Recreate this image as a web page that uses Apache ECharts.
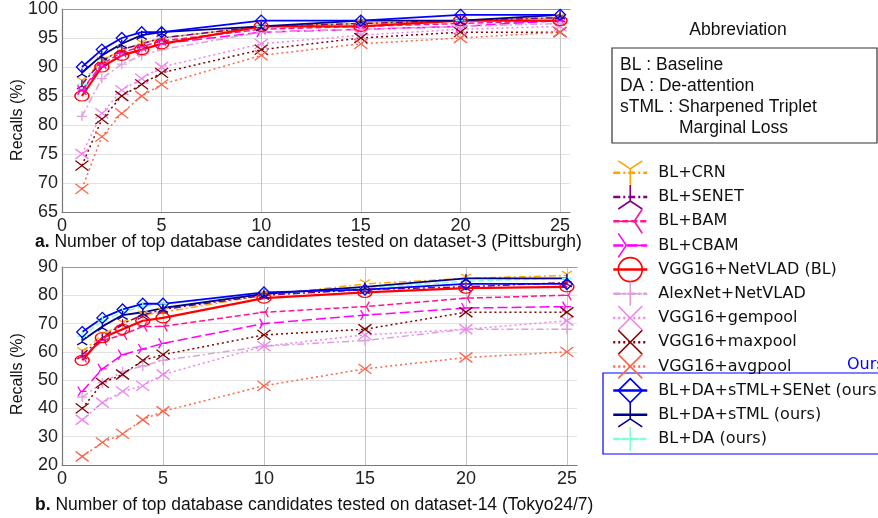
<!DOCTYPE html>
<html><head><meta charset="utf-8">
<script src="https://cdn.jsdelivr.net/npm/echarts@6/dist/echarts.min.js"></script>
<style>html,body{margin:0;padding:0;background:#fff}#c{width:878px;height:518px}</style>
</head><body><div id="c"></div>
<script>
// ---- data ----
const xs = [1, 2, 3, 4, 5, 10, 15, 20, 25];
const xTicks = [0, 5, 10, 15, 20, 25];
const seriesNames = ['BL+CRN', 'BL+SENET', 'BL+BAM', 'BL+CBAM', 'VGG16+NetVLAD (BL)', 'AlexNet+NetVLAD',
  'VGG16+gempool', 'VGG16+maxpool', 'VGG16+avgpool', 'BL+DA+sTML+SENet (ours)', 'BL+DA+sTML (ours)', 'BL+DA (ours)'];

// dataset-3 (Pittsburgh)
const crnA     = [87.5, 91, 93, 94, 95, 97, 97.5, 98, 98.5];
const senetA   = [87, 91, 93, 94, 95, 97, 97.5, 98, 98.5];
const bamA     = [86, 90.5, 92.5, 93.5, 94.5, 96.5, 97, 97.5, 98];
const cbamA    = [86, 90, 92, 93, 94, 96, 96.5, 97, 98];
const netvladA = [85, 90, 92, 93, 94, 97, 97, 98, 98];
const alexA    = [81.5, 88, 90.5, 92, 93, 96, 96.5, 97, 97.5];
const gemA     = [75, 82, 86, 88, 90, 94, 95.5, 96.5, 97];
const maxA     = [73, 81, 85, 87, 89, 93, 95, 96, 96];
const avgA     = [69, 78, 82, 85, 87, 92, 94, 95, 96];
const oursSeA  = [90, 93, 95, 96, 96, 98, 98, 99, 99];
const oursStA  = [89, 92, 94, 95.5, 96, 97, 98, 98, 99];
const oursDaA  = [87, 91, 93, 94, 95, 97, 97.5, 98, 98.5];

// dataset-14 (Tokyo24/7)
const crnB     = [60, 66, 70, 73, 74, 80, 84, 86, 87];
const senetB   = [59, 65, 70, 73, 75, 80, 82, 83, 84.5];
const bamB     = [58, 64, 66, 69, 69, 74, 76, 79, 80];
const cbamB    = [46, 54, 59, 61, 63, 70, 73, 75.5, 76];
const netvladB = [57, 65, 68, 71, 72, 79, 81, 82.5, 83];
const alexB    = [44, 49, 53, 55, 57, 62, 64, 68, 68];
const gemB     = [36, 42, 46, 48, 52, 62, 66, 68, 71];
const maxB     = [40, 49, 52, 57, 59, 66, 68, 74, 74];
const avgB     = [23, 28, 31, 36, 39, 48, 54, 58, 60];
const oursSeB  = [67, 72, 75, 77, 77, 81, 82, 84, 84];
const oursStB  = [64, 69, 73, 74, 75.5, 80.5, 83, 86, 86];
const oursDaB  = [65.5, 71, 74, 76, 77, 80.5, 82.5, 85, 86];

const topVals = [crnA, senetA, bamA, cbamA, netvladA, alexA, gemA, maxA, avgA, oursSeA, oursStA, oursDaA];
const botVals = [crnB, senetB, bamB, cbamB, netvladB, alexB, gemB, maxB, avgB, oursSeB, oursStB, oursDaB];

// ---- styles ----
const SYM = {
  triDown: 'path://M5,5L5,10M5,5L0.67,2.5M5,5L9.33,2.5',
  triUp: 'path://M5,5L5,0M5,5L0.67,7.5M5,5L9.33,7.5',
  triLeft: 'path://M5,5L0,5M5,5L7.5,0.67M5,5L7.5,9.33',
  triRight: 'path://M5,5L10,5M5,5L2.5,0.67M5,5L2.5,9.33',
  plus: 'path://M5,0L5,10M0,5L10,5',
  cross: 'path://M0,0L10,10M10,0L0,10'
};
const styles = [
  {c: '#FFA500', dash: [7, 3, 2, 3], w: 1.5, sym: SYM.triDown, size: [10, 10], keep: true},
  {c: '#800080', dash: [7, 3, 2, 3], w: 1.5, sym: SYM.triUp, size: [10, 10], keep: true},
  {c: '#FF1493', dash: [6, 3], w: 1.5, sym: SYM.triLeft, size: [10, 10], keep: true},
  {c: '#FF00FF', dash: [10, 4], w: 1.5, sym: SYM.triRight, size: [10, 10], keep: true},
  {c: '#FF0000', dash: 'solid', w: 2.2, sym: 'circle', size: [14, 10], keep: false},
  {c: '#DDA0DD', dash: [7, 3, 2, 3], w: 1.5, sym: SYM.plus, size: [10, 10], keep: false},
  {c: '#EE82EE', dash: [2, 3], w: 1.5, sym: SYM.cross, size: [13, 10], keep: false},
  {c: '#800000', dash: [2, 3], w: 1.5, sym: SYM.cross, size: [13, 10], keep: false},
  {c: '#FF6347', dash: [2, 3], w: 1.5, sym: SYM.cross, size: [13, 10], keep: false},
  {c: '#0000FF', dash: 'solid', w: 1.8, sym: 'diamond', size: [11, 11], keep: false},
  {c: '#00008B', dash: 'solid', w: 1.8, sym: SYM.triUp, size: [10, 10], keep: true},
  {c: '#7FFFD4', dash: [6, 3], w: 1.5, sym: SYM.plus, size: [10, 10], keep: false}
];
const drawOrder = [11, 0, 1, 2, 3, 5, 6, 7, 8, 4, 10, 9];

function mk(i, vals, g) {
  const s = styles[i];
  return {
    type: 'line', name: seriesNames[i],
    xAxisIndex: g === 0 ? 0 : 2, yAxisIndex: g,
    data: xs.map((x, j) => [x, vals[j]]),
    symbol: s.sym, symbolSize: s.size, symbolKeepAspect: s.keep, showAllSymbol: true,
    lineStyle: {color: s.c, width: s.w, type: s.dash},
    itemStyle: {color: 'transparent', borderColor: s.c, borderWidth: 1.3},
    emphasis: {disabled: true}, animation: false
  };
}
const series = [];
drawOrder.forEach(i => { series.push(mk(i, topVals[i], 0)); series.push(mk(i, botVals[i], 1)); });

const FONT = 'Liberation Sans, Arial, sans-serif';
function xMain(grid) {
  return {
    gridIndex: grid, type: 'value', min: 0, max: 25.5, interval: 5,
    axisLine: {show: true, lineStyle: {color: '#777', width: 1.2}},
    axisTick: {show: false},
    axisLabel: {fontSize: 18, color: '#222', fontFamily: FONT, margin: 5,
      formatter: v => (xTicks.indexOf(v) >= 0 ? String(v) : '')},
    splitLine: {show: true, showMaxLine: false, lineStyle: {color: '#c4c4c4', width: 1}}
  };
}
function xTop(grid) {
  return {
    gridIndex: grid, type: 'value', min: 0, max: 25.5, position: 'top',
    axisLine: {show: true, lineStyle: {color: '#999', width: 1.2}},
    axisTick: {show: false}, axisLabel: {show: false}, splitLine: {show: false}
  };
}
function yAx(grid, min, max, interval) {
  return {
    gridIndex: grid, type: 'value', min: min, max: max, interval: interval,
    axisLine: {show: true, lineStyle: {color: '#777', width: 1.2}},
    axisTick: {show: false},
    axisLabel: {fontSize: 18, color: '#222', fontFamily: FONT, margin: 4},
    splitLine: {show: true, showMaxLine: false, lineStyle: {color: '#e2e2e2', width: 1}}
  };
}

const chart = echarts.init(document.getElementById('c'), null, {renderer: 'canvas'});
chart.setOption({
  animation: false,
  backgroundColor: '#fff',
  grid: [
    {left: 62, top: 8.5, width: 508, height: 203.5},
    {left: 62, top: 267, width: 515, height: 198}
  ],
  xAxis: [xMain(0), xTop(0), xMain(1), xTop(1)],
  yAxis: [yAx(0, 65, 100, 5), yAx(1, 20, 90, 10)],
  title: [
    {text: '{b|a.} Number of top database candidates tested on dataset-3 (Pittsburgh)', left: 35, top: 233, padding: 0,
      textStyle: {fontSize: 17.5, fontWeight: 'normal', color: '#111', fontFamily: FONT,
        rich: {b: {fontSize: 17.5, fontWeight: 'bold', color: '#111', fontFamily: FONT}}}},
    {text: '{b|b.} Number of top database candidates tested on dataset-14 (Tokyo24/7)', left: 35, top: 496, padding: 0,
      textStyle: {fontSize: 17.5, fontWeight: 'normal', color: '#111', fontFamily: FONT,
        rich: {b: {fontSize: 17.5, fontWeight: 'bold', color: '#111', fontFamily: FONT}}}}
  ],
  legend: {
    orient: 'vertical', left: 612, top: 160, padding: 0,
    itemWidth: 34, itemHeight: 30, itemGap: -1.4,
    data: seriesNames,
    selectedMode: false,
    textStyle: {fontSize: 16, color: '#111', fontFamily: 'DejaVu Sans', padding: [0, 0, 0, 6]},
    lineStyle: {width: 2.5},
    itemStyle: {borderWidth: 1.6}
  },
  graphic: {elements: [
    {type: 'text', x: 18, y: 120, rotation: Math.PI / 2,
      style: {text: 'Recalls (%)', fill: '#111', font: '16px ' + FONT, align: 'center', verticalAlign: 'middle', textAlign: 'center', textVerticalAlign: 'middle'}},
    {type: 'text', x: 18, y: 374, rotation: Math.PI / 2,
      style: {text: 'Recalls (%)', fill: '#111', font: '16px ' + FONT, align: 'center', verticalAlign: 'middle', textAlign: 'center', textVerticalAlign: 'middle'}},
    {type: 'text', x: 738, y: 30,
      style: {text: 'Abbreviation', fill: '#111', font: '17.5px ' + FONT, align: 'center', verticalAlign: 'middle', textAlign: 'center', textVerticalAlign: 'middle'}},
    {type: 'rect', shape: {x: 612, y: 48, width: 265, height: 95}, style: {fill: 'none', stroke: '#333', lineWidth: 1.2}},
    {type: 'text', x: 620, y: 65, style: {text: 'BL : Baseline', fill: '#111', font: '17.5px ' + FONT, verticalAlign: 'middle', textVerticalAlign: 'middle'}},
    {type: 'text', x: 620, y: 86, style: {text: 'DA : De-attention', fill: '#111', font: '17.5px ' + FONT, verticalAlign: 'middle', textVerticalAlign: 'middle'}},
    {type: 'text', x: 620, y: 107, style: {text: 'sTML : Sharpened Triplet', fill: '#111', font: '17.5px ' + FONT, verticalAlign: 'middle', textVerticalAlign: 'middle'}},
    {type: 'text', x: 679, y: 128, style: {text: 'Marginal Loss', fill: '#111', font: '17.5px ' + FONT, verticalAlign: 'middle', textVerticalAlign: 'middle'}},
    {type: 'text', x: 847, y: 365, style: {text: 'Ours', fill: '#0000FF', font: '16px DejaVu Sans', verticalAlign: 'middle', textVerticalAlign: 'middle'}},
    {type: 'rect', shape: {x: 603, y: 373, width: 290, height: 81}, style: {fill: 'none', stroke: '#0000FF', lineWidth: 1.2}}
  ]},
  series: series
});
</script></body></html>
